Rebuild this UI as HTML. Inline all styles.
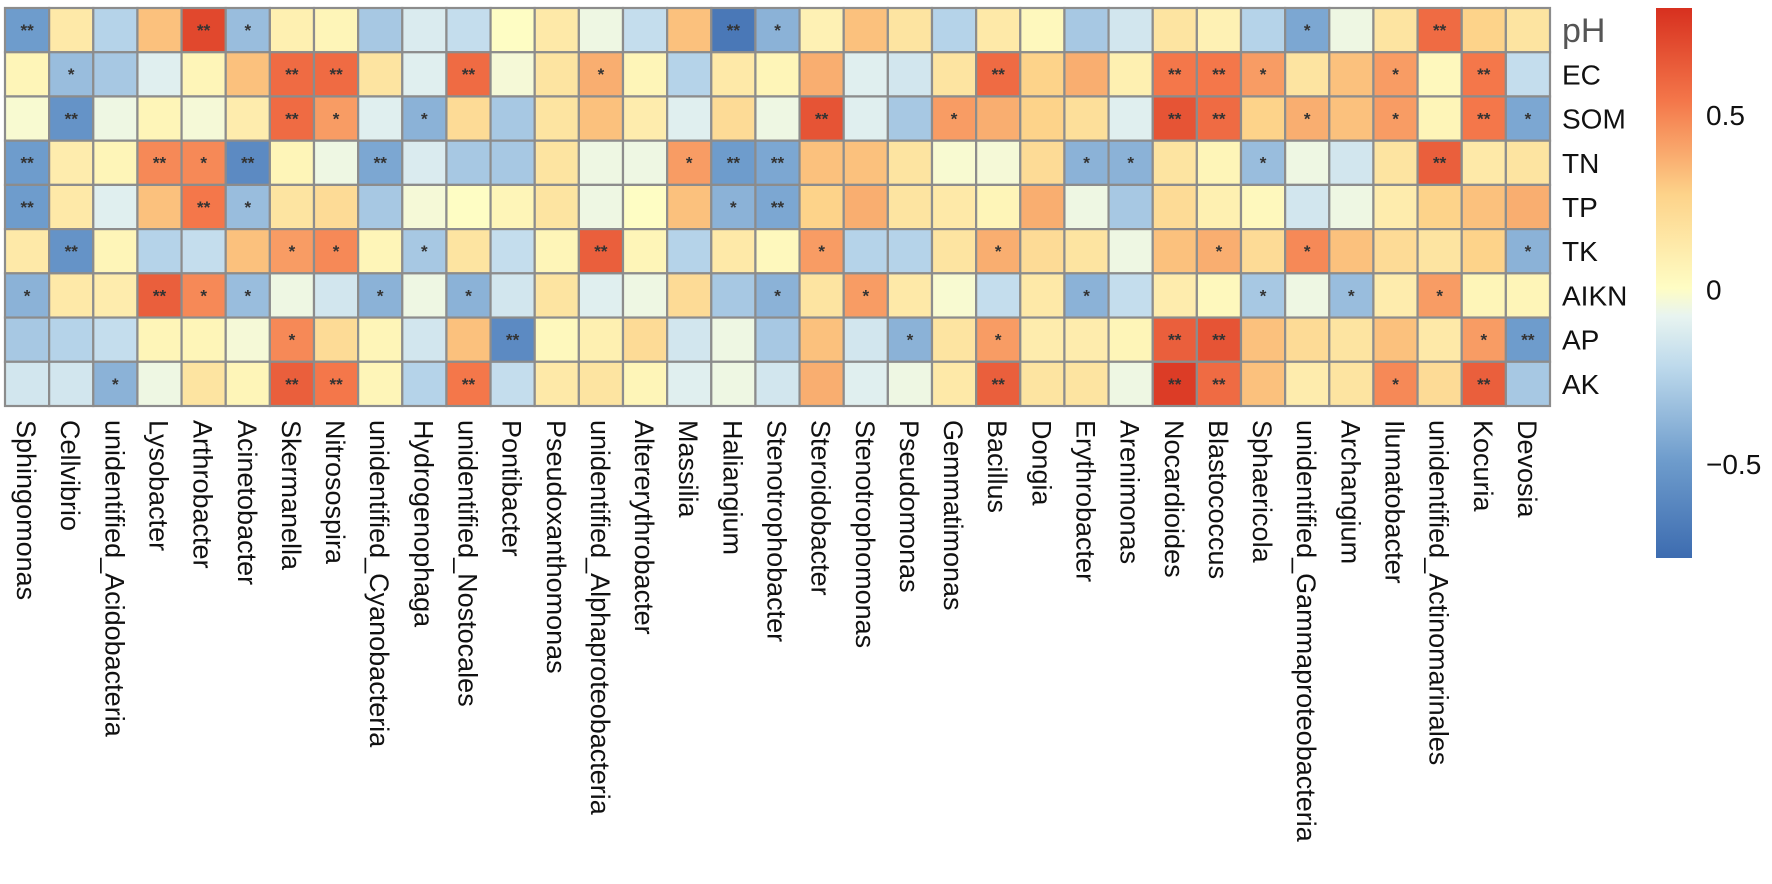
<!DOCTYPE html>
<html><head><meta charset="utf-8"><style>
html,body{margin:0;padding:0;background:#fff;width:1772px;height:884px;overflow:hidden}
svg{display:block}
text{font-family:"Liberation Sans",Arial,sans-serif}
</style></head><body>
<svg id="chart" width="1772" height="884" viewBox="0 0 1772 884" xmlns="http://www.w3.org/2000/svg">
<defs>
<linearGradient id="lg" x1="0" y1="1" x2="0" y2="0">
<stop offset="0" stop-color="#3d6cb0"/>
<stop offset="0.177" stop-color="#6e9ccc"/>
<stop offset="0.35" stop-color="#bedaec"/>
<stop offset="0.44" stop-color="#e8f4f0"/>
<stop offset="0.49" stop-color="#fefdc4"/>
<stop offset="0.66" stop-color="#fdd38a"/>
<stop offset="0.83" stop-color="#f4774a"/>
<stop offset="1" stop-color="#d7301f"/>
</linearGradient>
</defs>
<g id="cells"></g>
<g id="rowlabels"></g>
<g id="collabels"></g>
<g id="legend">
<rect x="1656" y="8" width="36" height="550" fill="url(#lg)"/>
</g>
</svg>
<script>
const columns = ["Sphingomonas","Cellvibrio","unidentified_Acidobacteria","Lysobacter","Arthrobacter","Acinetobacter","Skermanella","Nitrosospira","unidentified_Cyanobacteria","Hydrogenophaga","unidentified_Nostocales","Pontibacter","Pseudoxanthomonas","unidentified_Alphaproteobacteria","Altererythrobacter","Massilia","Haliangium","Stenotrophobacter","Steroidobacter","Stenotrophomonas","Pseudomonas","Gemmatimonas","Bacillus","Dongia","Erythrobacter","Arenimonas","Nocardioides","Blastococcus","Sphaericola","unidentified_Gammaproteobacteria","Archangium","Ilumatobacter","unidentified_Actinomarinales","Kocuria","Devosia"];
const rows = ["pH","EC","SOM","TN","TP","TK","AIKN","AP","AK"];
const valPH   = [-0.5,0.12,-0.25,0.3,0.7,-0.35,0.08,0.05,-0.3,-0.12,-0.2,0.0,0.12,-0.05,-0.2,0.3,-0.7,-0.4,0.07,0.3,0.15,-0.25,0.12,0.03,-0.3,-0.15,0.15,0.07,-0.25,-0.45,-0.05,0.15,0.55,0.25,0.15];
const valEC   = [0.05,-0.35,-0.3,-0.1,0.05,0.3,0.55,0.55,0.15,-0.1,0.55,-0.03,0.15,0.35,0.05,-0.25,0.12,0.05,0.35,-0.1,-0.15,0.15,0.55,0.25,0.35,0.08,0.5,0.5,0.4,0.15,0.3,0.4,0.03,0.5,-0.2];
const valSOM  = [-0.02,-0.55,-0.05,0.05,-0.03,0.1,0.55,0.4,-0.1,-0.4,0.2,-0.3,0.15,0.3,0.1,-0.1,0.2,-0.05,0.65,-0.1,-0.3,0.4,0.35,0.25,0.18,-0.1,0.65,0.55,0.25,0.35,0.3,0.4,0.05,0.5,-0.45];
const valTN   = [-0.5,0.1,0.05,0.45,0.45,-0.6,0.05,-0.05,-0.45,-0.12,-0.3,-0.3,0.15,-0.05,-0.05,0.4,-0.5,-0.45,0.3,0.3,0.15,-0.02,-0.03,0.2,-0.4,-0.4,0.15,0.05,-0.35,-0.05,-0.15,0.15,0.6,0.12,0.15];
const valTP   = [-0.5,0.12,-0.1,0.3,0.5,-0.35,0.15,0.2,-0.3,-0.03,0.0,0.05,0.15,-0.05,0.0,0.3,-0.4,-0.45,0.25,0.35,0.15,0.12,0.05,0.35,-0.05,-0.3,0.2,0.08,0.03,-0.15,-0.05,0.1,0.25,0.3,0.35];
const valTK   = [0.12,-0.55,0.05,-0.25,-0.2,0.3,0.4,0.45,0.05,-0.3,0.15,-0.2,0.05,0.6,0.05,-0.25,0.12,0.03,0.4,-0.25,-0.25,0.15,0.35,0.2,0.15,-0.05,0.3,0.35,0.2,0.45,0.3,0.2,0.15,0.25,-0.4];
const valAIKN = [-0.4,0.12,0.1,0.6,0.45,-0.35,-0.05,-0.15,-0.4,-0.05,-0.4,-0.15,0.15,-0.1,-0.05,0.2,-0.3,-0.4,0.15,0.4,0.12,-0.02,-0.2,0.12,-0.4,-0.2,0.1,0.03,-0.3,-0.05,-0.35,0.1,0.4,0.05,0.05];
const valAP   = [-0.3,-0.25,-0.2,0.05,0.05,-0.03,0.45,0.2,0.05,-0.15,0.3,-0.6,0.03,0.08,0.2,-0.15,-0.05,-0.3,0.3,-0.15,-0.4,0.15,0.4,0.1,0.1,0.05,0.6,0.65,0.3,0.2,0.15,0.3,0.12,0.4,-0.5];
const valAK   = [-0.15,-0.15,-0.4,-0.05,0.15,0.05,0.6,0.5,0.05,-0.25,0.5,-0.2,0.12,0.15,0.05,-0.1,-0.05,-0.15,0.35,-0.1,-0.05,0.12,0.6,0.15,0.15,-0.05,0.75,0.55,0.3,0.1,0.15,0.45,0.2,0.6,-0.3];
const sigPH   = ["**","","","","**","*","","","","","","","","","","","**","*","","","","","","","","","","","","*","","","**","",""];
const sigEC   = ["","*","","","","","**","**","","","**","","","*","","","","","","","","","**","","","","**","**","*","","","*","","**",""];
const sigSOM  = ["","**","","","","","**","*","","*","","","","","","","","","**","","","*","","","","","**","**","","*","","*","","**","*"];
const sigTN   = ["**","","","**","*","**","","","**","","","","","","","*","**","**","","","","","","","*","*","","","*","","","","**","",""];
const sigTP   = ["**","","","","**","*","","","","","","","","","","","*","**","","","","","","","","","","","","","","","","",""];
const sigTK   = ["","**","","","","","*","*","","*","","","","**","","","","","*","","","","*","","","","","*","","*","","","","","*"];
const sigAIKN = ["*","","","**","*","*","","","*","","*","","","","","","","*","","*","","","","","*","","","","*","","*","","*","",""];
const sigAP   = ["","","","","","","*","","","","","**","","","","","","","","","*","","*","","","","**","**","","","","","","*","**"];
const sigAK   = ["","","*","","","","**","**","","","**","","","","","","","","","","","","**","","","","**","**","","","","*","","**",""];
const legendTicks = [0.5, 0, -0.5];

const values = [valPH,valEC,valSOM,valTN,valTP,valTK,valAIKN,valAP,valAK];
const sigs = [sigPH,sigEC,sigSOM,sigTN,sigTP,sigTK,sigAIKN,sigAP,sigAK];
const NS = "http://www.w3.org/2000/svg";
const X0 = 5, Y0 = 8, CW = (1550 - 5) / 35, RH = (406 - 8) / 9;
function xPos(i){ return X0 + i * CW; }
function yPos(j){ return Y0 + j * RH; }
const LTOP = 8, LBOT = 558, LMAX = 0.806, LMIN = -0.77;
function legendY(v){ return LTOP + (LMAX - v) / (LMAX - LMIN) * (LBOT - LTOP); }
const stops = [[-0.77,[61,108,176]],[-0.5,[110,156,204]],[-0.22,[190,218,236]],[-0.07,[232,244,240]],[0,[254,253,196]],[0.25,[253,211,138]],[0.5,[244,119,74]],[0.8,[215,48,31]]];
function color(v){
  if (v <= stops[0][0]) return "rgb(" + stops[0][1].join(",") + ")";
  for (let k = 1; k < stops.length; k++) {
    if (v <= stops[k][0]) {
      const a = stops[k-1], b = stops[k], t = (v - a[0]) / (b[0] - a[0]);
      const c = a[1].map((q, i) => Math.round(q + (b[1][i] - q) * t));
      return "rgb(" + c.join(",") + ")";
    }
  }
  return "rgb(" + stops[stops.length-1][1].join(",") + ")";
}
const cells = document.getElementById("cells");
for (let j = 0; j < rows.length; j++) {
  for (let i = 0; i < columns.length; i++) {
    const r = document.createElementNS(NS, "rect");
    r.setAttribute("x", xPos(i)); r.setAttribute("y", yPos(j));
    r.setAttribute("width", CW); r.setAttribute("height", RH);
    r.setAttribute("fill", color(values[j][i]));
    r.setAttribute("stroke", "#8c8c8c"); r.setAttribute("stroke-width", "2.2");
    
    
    cells.appendChild(r);
    const s = sigs[j][i];
    if (s) {
      const t = document.createElementNS(NS, "text");
      t.setAttribute("x", xPos(i) + CW / 2); t.setAttribute("y", yPos(j) + 28);
      t.setAttribute("text-anchor", "middle"); t.setAttribute("font-size", "17");
      t.setAttribute("fill", "#333"); t.setAttribute("font-weight", "bold");
      t.textContent = s;
      
      
      cells.appendChild(t);
    }
  }
}
const rl = document.getElementById("rowlabels");
for (let j = 0; j < rows.length; j++) {
  const t = document.createElementNS(NS, "text");
  const isPH = rows[j] === "pH";
  t.setAttribute("x", 1562); t.setAttribute("y", yPos(j) + RH / 2 + (isPH ? 12 : 10));
  t.setAttribute("font-size", isPH ? "34" : "28");
  t.setAttribute("fill", isPH ? "#555" : "#111");
  t.textContent = rows[j];
  
  
  rl.appendChild(t);
}
const cl = document.getElementById("collabels");
for (let i = 0; i < columns.length; i++) {
  const t = document.createElementNS(NS, "text");
  const cx = xPos(i) + CW / 2 - 10, cy = 420;
  t.setAttribute("x", cx); t.setAttribute("y", cy);
  t.setAttribute("transform", "rotate(90 " + cx + " " + cy + ")");
  t.setAttribute("font-size", "27"); t.setAttribute("fill", "#111");
  t.textContent = columns[i];
  
  
  cl.appendChild(t);
}
const lg = document.getElementById("legend");
for (const v of legendTicks) {
  const t = document.createElementNS(NS, "text");
  t.setAttribute("x", 1706); t.setAttribute("y", legendY(v) + 10);
  t.setAttribute("font-size", "28"); t.setAttribute("fill", "#111");
  t.textContent = v === 0 ? "0" : (v < 0 ? "\u2212" + Math.abs(v) : String(v));
  
  
  lg.appendChild(t);
}
</script>
</body></html>
